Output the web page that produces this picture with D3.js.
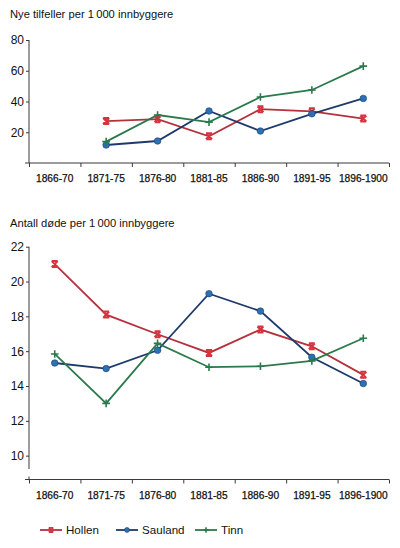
<!DOCTYPE html>
<html>
<head>
<meta charset="utf-8">
<script src="https://cdn.jsdelivr.net/npm/d3@7"></script>
<style>
  body { margin: 0; background: #fff; }
  svg { font-family: "Liberation Sans", Arial, sans-serif; }
  .domain { display: none; }
</style>
</head>
<body>
<svg id="chart" width="400" height="548"></svg>
<script>
// periods on the x axis
var periods = ['1866-70', '1871-75', '1876-80', '1881-85', '1886-90', '1891-95', '1896-1900'];

// new cases per 1 000 inhabitants (no data for 1866-70)
var casesHollen  = [null, 27.3, 28.5, 17.4, 35.0, 33.6, 28.9];
var casesSauland = [null, 11.7, 14.3, 33.8, 20.8, 32.0, 42.0];
var casesTinn    = [null, 13.9, 31.2, 26.6, 42.9, 47.5, 63.0];

// deaths per 1 000 inhabitants
var deathsHollen  = [21.0, 18.1, 16.97, 15.9, 17.24, 16.28, 14.64];
var deathsSauland = [15.32, 15.0, 16.05, 19.3, 18.3, 15.65, 14.14];
var deathsTinn    = [15.84, 13.0, 16.45, 15.08, 15.13, 15.44, 16.74];

var casesTicks  = [20, 40, 60, 80];
var deathsTicks = [10, 12, 14, 16, 18, 20, 22];

var seriesNames = ['Hollen', 'Sauland', 'Tinn'];

var styles = {
    Hollen:  {line: '#b5313c', mark: '#d9323f', shape: 'x'},
    Sauland: {line: '#1e3a6c', mark: '#2a72b4', shape: 'o'},
    Tinn:    {line: '#2b7a4c', mark: '#2b7a4c', shape: '+'}
};

var svg = d3.select('#chart');
var axisColor = '#3a3a3a';

var x = d3.scaleBand().domain(periods).range([29, 389]);
var xEdge = d3.scaleLinear().domain([0, periods.length]).range([29, 389]);

function marker(g, shape, color, k) {
    k = k || 1;
    if (shape === 'o') {
        g.append('circle').attr('r', 3.3 * k).attr('fill', color)
            .attr('stroke', '#1e3a6c').attr('stroke-width', 0.6);
    } else if (shape === 'x') {
        var a = 3 * k;
        g.append('path').attr('d', 'M-' + a + ',-' + a + 'L' + a + ',' + a + 'M-' + a + ',' + a + 'L' + a + ',-' + a +
                'M-' + a + ',-' + a + 'H' + a + 'M-' + a + ',' + a + 'H' + a)
            .attr('stroke', color).attr('stroke-width', 2 * k).attr('fill', 'none');
    } else {
        var b = 3.8 * k;
        g.append('path').attr('d', 'M-' + b + ',0H' + b + 'M0,-' + b + 'V' + b)
            .attr('stroke', color).attr('stroke-width', 1.6).attr('fill', 'none');
    }
}

function drawChart(opts) {
    var y = d3.scaleLinear().domain(opts.domain).range([opts.bottom, opts.top]);

    svg.append('text')
        .attr('x', 10).attr('y', opts.titleY)
        .attr('font-size', '11.2px').attr('fill', '#111')
        .text(opts.title);

    // y axis
    var ya = svg.append('g')
        .attr('transform', 'translate(29,0)')
        .call(d3.axisLeft(y).tickValues(opts.ticks).tickSize(3).tickPadding(2));
    ya.selectAll('line').attr('stroke', axisColor);
    ya.selectAll('text').attr('font-size', '12px').attr('fill', '#111');

    // y axis line (optionally broken)
    var segs = opts.breakAt ? [[opts.top, opts.breakAt[0]], [opts.breakAt[1], opts.bottom]] : [[opts.top, opts.bottom]];
    segs.forEach(function (s) {
        svg.append('line').attr('x1', 29).attr('x2', 29).attr('y1', s[0]).attr('y2', s[1])
            .attr('stroke', axisColor).attr('stroke-width', 1);
    });

    // x axis line and boundary ticks
    svg.append('line').attr('x1', 25).attr('x2', 389).attr('y1', opts.bottom).attr('y2', opts.bottom)
        .attr('stroke', axisColor).attr('stroke-width', 1.2);
    var xt = svg.append('g')
        .attr('transform', 'translate(0,' + opts.bottom + ')')
        .call(d3.axisBottom(xEdge).tickValues(d3.range(periods.length + 1)).tickSize(4).tickFormat(''));
    xt.selectAll('line').attr('stroke', axisColor);

    var xl = svg.append('g')
        .attr('transform', 'translate(0,' + opts.bottom + ')')
        .call(d3.axisBottom(x).tickSize(0).tickPadding(12));
    xl.selectAll('text').attr('font-size', '10.2px').attr('fill', '#111')
        .attr('stroke', '#111').attr('stroke-width', 0.25);

    var line = d3.line()
        .defined(function (d) { return d != null; })
        .x(function (d, i) { return x(periods[i]) + x.bandwidth() / 2; })
        .y(function (d) { return y(d); });

    seriesNames.forEach(function (name) {
        var vals = opts.data[name];
        var st = styles[name];
        svg.append('path')
            .attr('d', line(vals))
            .attr('fill', 'none')
            .attr('stroke', st.line)
            .attr('stroke-width', 1.8);
    });

    seriesNames.forEach(function (name) {
        var vals = opts.data[name];
        var st = styles[name];
        vals.forEach(function (v, i) {
            if (v == null) return;
            var g = svg.append('g')
                .attr('transform', 'translate(' + (x(periods[i]) + x.bandwidth() / 2) + ',' + y(v) + ')');
            marker(g, st.shape, st.mark);
        });
    });
}

drawChart({
    title: 'Nye tilfeller per 1\u2009000 innbyggere',
    titleY: 18,
    domain: [0, 80],
    top: 40,
    bottom: 163,
    ticks: casesTicks,
    data: {Hollen: casesHollen, Sauland: casesSauland, Tinn: casesTinn}
});

drawChart({
    title: 'Antall døde per 1\u2009000 innbyggere',
    titleY: 227,
    domain: [8.63, 22],
    top: 246.7,
    bottom: 479.5,
    ticks: deathsTicks,
    breakAt: [469, 476.5],
    data: {Hollen: deathsHollen, Sauland: deathsSauland, Tinn: deathsTinn}
});

// legend
var legendX = [40, 116, 195];
seriesNames.forEach(function (name, i) {
    var st = styles[name];
    var lg = svg.append('g').attr('transform', 'translate(' + legendX[i] + ',530)');
    lg.append('line').attr('x1', 0).attr('x2', 22).attr('y1', 0).attr('y2', 0)
        .attr('stroke', st.line).attr('stroke-width', 1.8);
    marker(lg.append('g').attr('transform', 'translate(11,0)'), st.shape, st.mark, 0.75);
    lg.append('text').attr('x', 26).attr('y', 4.2)
        .attr('font-size', '11.6px').attr('fill', '#111').text(name);
});
</script>
</body>
</html>
